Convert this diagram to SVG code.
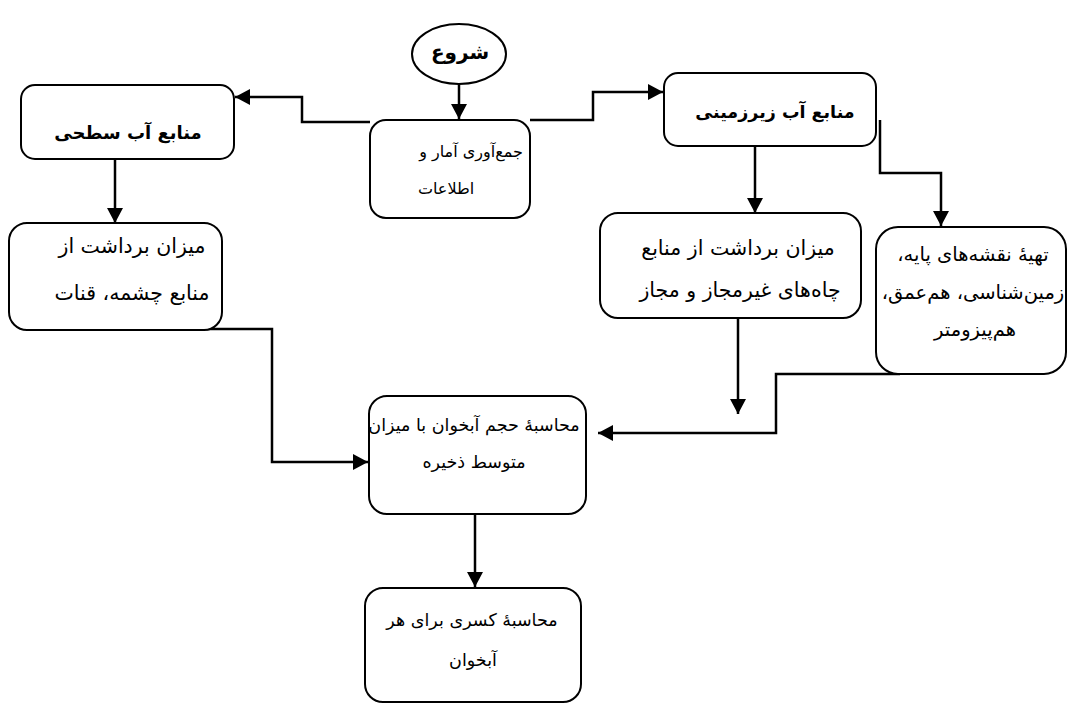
<svg xmlns="http://www.w3.org/2000/svg" width="1067" height="704" viewBox="0 0 1067 704">
<style>
.box{fill:#fff;stroke:#000;stroke-width:2}
.t{font-family:"DejaVu Sans",sans-serif;font-size:17.5px;fill:#000;text-anchor:middle;dominant-baseline:central;direction:rtl}
.b{font-weight:bold;font-size:17.5px}
.l{font-size:20.5px}
.c{fill:none;stroke:#000;stroke-width:2.5;marker-end:url(#ah)}
</style>
<defs>
<marker id="ah" markerUnits="userSpaceOnUse" markerWidth="16" markerHeight="16" refX="15" refY="8" orient="auto" viewBox="0 0 16 16">
<path d="M0,0 L15,8 L0,16 z" fill="#000"/>
</marker>
</defs>
<rect width="1067" height="704" fill="#fff"/>
<g id="connectors">
<path class="c" d="M459,84 V119"/>
<path class="c" d="M370,122 H302 V97 H235"/>
<path class="c" d="M530,120 H593 V92 H663"/>
<path class="c" d="M115,159 V223"/>
<path class="c" d="M755,147 V213"/>
<path class="c" d="M880,120 V173 H941 V226"/>
<path class="c" d="M738,318 V414"/>
<path class="c" d="M900,374 H776 V433 H598"/>
<path class="c" d="M174,329 H272 V462 H368"/>
<path class="c" d="M475,514 V587"/>
</g>
<g id="start">
<ellipse cx="459" cy="54" rx="47" ry="30" class="box"/>
<text class="t b" x="460" y="52" style="font-size:20px">شروع</text>
</g>
<g id="collect">
<rect class="box" x="370" y="120" width="160" height="98" rx="16"/>
<text class="t" x="471" y="151" style="font-size:16px">جمع&#x200C;آوری آمار و</text>
<text class="t" x="446" y="188" style="font-size:16px">اطلاعات</text>
</g>
<g id="surface">
<rect class="box" x="21" y="85" width="213" height="74" rx="14"/>
<text class="t b" x="128" y="132" style="font-size:18px">منابع آب سطحی</text>
</g>
<g id="ground">
<rect class="box" x="664" y="73" width="212" height="73" rx="14"/>
<text class="t b" x="775" y="112">منابع آب زیرزمینی</text>
</g>
<g id="surface-withdraw">
<rect class="box" x="9" y="223" width="213" height="107" rx="18"/>
<text class="t l" x="132" y="246">میزان برداشت از</text>
<text class="t l" x="132" y="293">منابع چشمه، قنات</text>
</g>
<g id="ground-withdraw">
<rect class="box" x="600" y="213" width="261" height="105" rx="18"/>
<text class="t l" x="738" y="248">میزان برداشت از منابع</text>
<text class="t l" x="740" y="290">چاه&#x200C;های غیرمجاز و مجاز</text>
</g>
<g id="maps">
<rect class="box" x="876" y="227" width="190" height="147" rx="22"/>
<text class="t" x="973" y="254" style="font-size:19.5px">تهیهٔ نقشه&#x200C;های پایه،</text>
<text class="t" x="973" y="292" style="font-size:19.5px">زمین&#x200C;شناسی، هم&#x200C;عمق،</text>
<text class="t" x="975" y="329" style="font-size:19.5px">هم&#x200C;پیزومتر</text>
</g>
<g id="volume">
<rect class="box" x="369" y="396" width="217" height="118" rx="18"/>
<text class="t" x="474" y="425">محاسبهٔ حجم آبخوان با میزان</text>
<text class="t" x="474" y="462">متوسط ذخیره</text>
</g>
<g id="deficit">
<rect class="box" x="365" y="588" width="216" height="114" rx="18"/>
<text class="t" x="472" y="620">محاسبهٔ کسری برای هر</text>
<text class="t" x="473" y="660">آبخوان</text>
</g>
</svg>
